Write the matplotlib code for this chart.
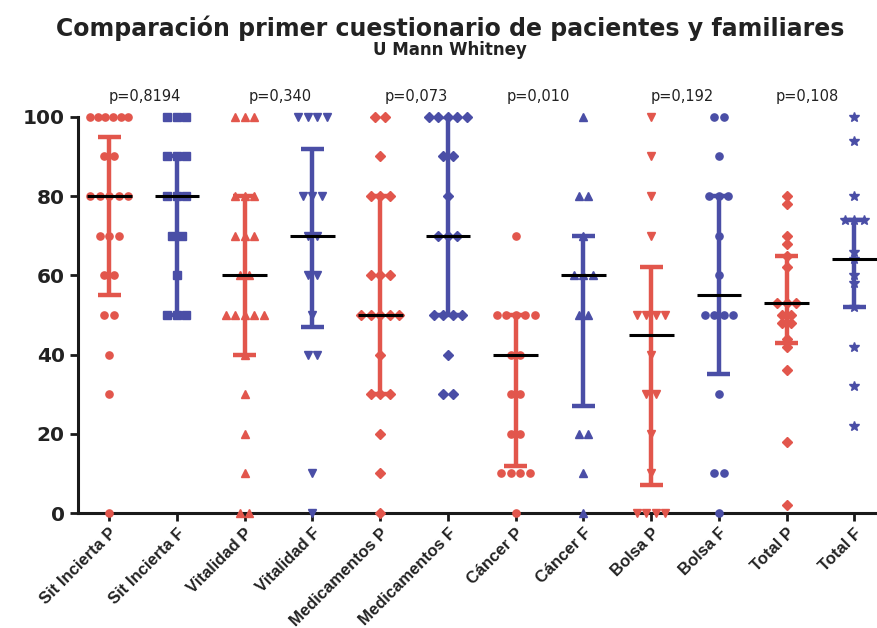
import numpy as np
import matplotlib

matplotlib.use("Agg")
import matplotlib.pyplot as plt  # noqa: E402

RED = "#e2564c"
BLUE = "#4a4ea6"

categories = [
    "Sit Incierta P", "Sit Incierta F", "Vitalidad P", "Vitalidad F",
    "Medicamentos P", "Medicamentos F", "Cáncer P", "Cáncer F",
    "Bolsa P", "Bolsa F", "Total P", "Total F",
]

# raw scores per group
sit_p = [100] * 6 + [90] * 2 + [80] * 5 + [70] * 3 + [60] * 2 + [50] * 2 + [40, 30, 0]
sit_f = [100] * 3 + [90] * 3 + [80] * 3 + [70] * 2 + [60] + [50] * 3
vit_p = [100] * 3 + [80] * 3 + [70] * 3 + [60] * 2 + [50] * 5 + [40, 30, 20, 10] + [0] * 2
vit_f = [100] * 4 + [80] * 3 + [70] * 2 + [60] * 2 + [50] + [40] * 2 + [10, 0]
med_p = [100] * 2 + [90] + [80] * 3 + [60] * 3 + [50] * 5 + [40] + [30] * 3 + [20, 10, 0]
med_f = [100] * 5 + [90] * 2 + [80] + [70] * 3 + [50] * 4 + [40] + [30] * 2
can_p = [70] + [50] * 5 + [40] * 2 + [30] * 2 + [20] * 2 + [10] * 4 + [0]
can_f = [100] + [80] * 2 + [70] + [60] * 3 + [50] * 2 + [20] * 2 + [10, 0]
bol_p = [100, 90, 80, 70] + [50] * 4 + [40] + [30] * 2 + [20, 10] + [0] * 4
bol_f = [100] * 2 + [90] + [80] * 3 + [70, 60] + [50] * 4 + [30] + [10] * 2 + [0]
tot_p = [80, 78, 70, 68, 65, 62, 53, 53, 53, 50, 50, 48, 48, 44, 42, 36, 18, 2]
tot_f = [100, 94, 80, 74, 74, 74, 66, 64, 60, 58, 52, 42, 32, 22]

groups = [sit_p, sit_f, vit_p, vit_f, med_p, med_f, can_p, can_f, bol_p, bol_f, tot_p, tot_f]

# median and error-bar limits as drawn
medians = [80, 80, 60, 70, 50, 70, 40, 60, 45, 55, 53, 64]
err_low = [55, 50, 40, 47, 30, 50, 12, 27, 7, 35, 43, 52]
err_high = [95, 90, 80, 92, 80, 100, 50, 70, 62, 80, 65, 74]

markers = ["o", "s", "^", "v", "D", "D", "o", "^", "v", "o", "D", "*"]
colors = [RED, BLUE] * 6

p_labels = ["p=0,8194", "p=0,340", "p=0,073", "p=0,010", "p=0,192", "p=0,108"]
p_xpos = [0.53, 2.53, 4.53, 6.34, 8.46, 10.31]


def spread(values, binw=2.0, step=0.14, maxw=0.56):
    """GraphPad-like scatter: points with (nearly) equal values side by side."""
    vals = np.asarray(values, dtype=float)
    offs = np.zeros_like(vals)
    keys = np.round(vals / binw)
    for k in np.unique(keys):
        idx = np.where(keys == k)[0]
        n = len(idx)
        if n > 1:
            s = min(step, maxw / (n - 1))
            offs[idx] = (np.arange(n) - (n - 1) / 2) * s
    return offs


fig = plt.figure(figsize=(8.77, 6.28), dpi=100)
ax = fig.add_axes([0.089, 0.183, 0.92, 0.631])

for i, (vals, mk, col) in enumerate(zip(groups, markers, colors)):
    x = i + spread(vals)
    ms = 7.5 if mk == "*" else (4.6 if mk == "D" else 5.2)
    ax.plot(x, vals, ls="none", marker=mk, ms=ms, color=col, mec=col,
            clip_on=False, zorder=3)
    ax.vlines(i, err_low[i], err_high[i], color=col, lw=3.2, zorder=4)
    ax.hlines([err_low[i], err_high[i]], i - 0.17, i + 0.17, color=col, lw=3.2, zorder=4)
    ax.hlines(medians[i], i - 0.33, i + 0.33, color="black", lw=2.2, zorder=5)

for txt, xp in zip(p_labels, p_xpos):
    ax.text(xp, 105, txt, ha="center", va="center", fontsize=10.5, color="#222222")

ax.set_xlim(-0.46, 11.45)
ax.set_ylim(0, 100)
ax.set_yticks([0, 20, 40, 60, 80, 100])
ax.set_xticks(range(len(categories)))
ax.set_xticklabels(categories, rotation=45, ha="right", rotation_mode="anchor",
                   fontsize=12, fontweight="bold", family="Liberation Sans",
                   color="#222222")
for lab in ax.get_yticklabels():
    lab.set_fontsize(14.5)
    lab.set_fontweight("bold")
    lab.set_color("#222222")

ax.spines["top"].set_visible(False)
ax.spines["right"].set_visible(False)
for sp in ("left", "bottom"):
    ax.spines[sp].set_linewidth(2.2)
    ax.spines[sp].set_color("#1a1a1a")
ax.tick_params(axis="both", length=6, width=2, color="#1a1a1a")
ax.tick_params(axis="x", pad=3)

fig.text(0.513, 0.955, "Comparación primer cuestionario de pacientes y familiares",
         ha="center", va="center", fontsize=17, fontweight="bold", color="#222222")
fig.text(0.513, 0.92, "U Mann Whitney", ha="center", va="center",
         fontsize=12, fontweight="bold", color="#222222")

fig.savefig("out.png", dpi=100)
